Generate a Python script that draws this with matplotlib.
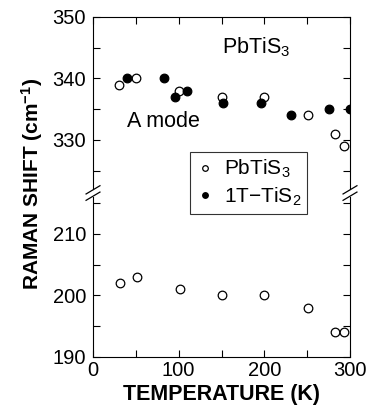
import matplotlib
matplotlib.use("Agg")
import matplotlib.pyplot as plt
from matplotlib.ticker import MultipleLocator

plt.rcParams['font.family'] = ['Liberation Sans', 'DejaVu Sans']
plt.rcParams['mathtext.fontset'] = 'custom'
plt.rcParams['mathtext.rm'] = 'Liberation Sans'
plt.rcParams['mathtext.it'] = 'Liberation Sans:italic'
plt.rcParams['mathtext.bf'] = 'Liberation Sans:bold'

# PbTiS3, A mode (upper branch)
pb_t_hi = [30, 50, 100, 150, 200, 251, 282, 293]
pb_w_hi = [339, 340, 338, 337, 337, 334, 331, 329]
# 1T-TiS2, A mode
ti_t = [40, 83, 96, 110, 152, 196, 231, 275, 300]
ti_w = [340, 340, 337, 338, 336, 336, 334, 335, 335]
# PbTiS3, lower mode
pb_t_lo = [31, 51, 101, 151, 200, 251, 282, 293]
pb_w_lo = [202, 203, 201, 200, 200, 198, 194, 194]

fig = plt.figure(figsize=(3.71, 4.13), dpi=100)
ax1 = fig.add_axes([0.2507, 0.5424, 0.6927, 0.4165])
ax2 = fig.add_axes([0.2507, 0.1356, 0.6927, 0.3874])

open_kw = dict(ls='none', marker='o', ms=6.2, mfc='white', mec='black', mew=0.9)
fill_kw = dict(ls='none', marker='o', ms=6.2, mfc='black', mec='black', mew=0.9)

ax1.plot(pb_t_hi, pb_w_hi, label='PbTiS$_3$', **open_kw)
ax1.plot(ti_t, ti_w, label='1T\u2212TiS$_2$', **fill_kw)
ax2.plot(pb_t_lo, pb_w_lo, **open_kw)

ax1.set_ylim(322, 350)
ax2.set_ylim(190, 216)
for ax in (ax1, ax2):
    ax.set_xlim(0, 300)
    ax.xaxis.set_major_locator(MultipleLocator(100))
    ax.xaxis.set_minor_locator(MultipleLocator(50))
    ax.yaxis.set_major_locator(MultipleLocator(10))
    ax.yaxis.set_minor_locator(MultipleLocator(5))
    ax.tick_params(which='both', direction='in', right=True, length=5, width=0.8,
                   labelsize=14.5, pad=5)
    for s in ax.spines.values():
        s.set_linewidth(0.8)

ax1.spines['bottom'].set_visible(False)
ax1.tick_params(which='both', top=True, bottom=False, labelbottom=False)
ax2.spines['top'].set_visible(False)
ax2.tick_params(which='both', top=False, bottom=True)
ax2.tick_params(axis='x', pad=3)

# break marks "//" on both side spines
dx, dy = 0.027, 0.024
kw = dict(color='black', lw=0.9, clip_on=False)
for x0 in (0.0, 1.0):
    ax1.plot([x0 - dx, x0 + dx], [-0.005 - dy, -0.005 + dy], transform=ax1.transAxes, **kw)
    s = 172 / 160
    ax2.plot([x0 - dx, x0 + dx], [1.005 - dy * s, 1.005 + dy * s], transform=ax2.transAxes, **kw)

ax1.text(191, 345, 'PbTiS$_3$', fontsize=15.5, ha='center', va='center')
ax1.text(82, 333, 'A mode', fontsize=15.5, ha='center', va='center')

leg = fig.legend(loc='center', bbox_to_anchor=(0.671, 0.557), fontsize=15,
                 frameon=True, fancybox=False, edgecolor='black', markerscale=0.65,
                 handlelength=0.8, handletextpad=0.5, labelspacing=0.25,
                 borderpad=0.3, borderaxespad=0)
leg.get_frame().set_linewidth(0.8)

fig.text(0.086, 0.554, 'RAMAN SHIFT (cm$^{\\mathbf{-1}}$)', rotation=90,
         fontsize=15, fontweight='bold', ha='center', va='center')
fig.text(0.597, 0.0436, 'TEMPERATURE (K)', fontsize=15.5, fontweight='bold',
         ha='center', va='center')

fig.savefig('out.png', dpi=100)
